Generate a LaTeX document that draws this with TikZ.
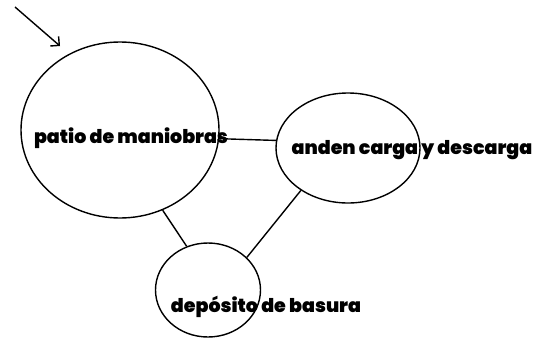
\documentclass[tikz,border=0pt]{standalone}
\usepackage{fontspec}
\setmainfont{Poppins}[BoldFont={Poppins Black}]
\usetikzlibrary{shapes.geometric,arrows.meta}
\begin{document}
\begin{tikzpicture}[x=1pt,y=-1pt,
  area/.style={draw,ellipse,line width=1.4pt,inner sep=0pt},
  label/.style={font=\fontsize{19}{22}\selectfont\bfseries,inner sep=0pt},
  link/.style={line width=1.4pt}]
\useasboundingbox[fill=white] (0,0) rectangle (539,338);
% the three areas
\node[area,minimum width=198pt,minimum height=176pt] (patio) at (120,130) {};
\node[area,minimum width=144pt,minimum height=110pt] (anden) at (348,148) {};
\node[area,minimum width=105pt,minimum height=94pt] (deposito) at (208,290) {};
% their names
\node[label] (tpatio) at (131,138) {patio de maniobras};
\node[label] (tanden) at (412,150) {anden carga y descarga};
\node[label] (tdeposito) at (266,307) {depósito de basura};
% links between areas
\draw[link] (patio.-5) -- (anden.174);
\draw[link] (patio.-62) -- (deposito.116);
\draw[link] (anden.-138) -- (deposito.40);
% entry arrow
\coordinate (intail) at (15,7);
\coordinate (inhead) at (60,46);
\draw[link,-{Straight Barb[angle=90:9pt]}] (intail) -- (inhead);
\end{tikzpicture}
\end{document}
